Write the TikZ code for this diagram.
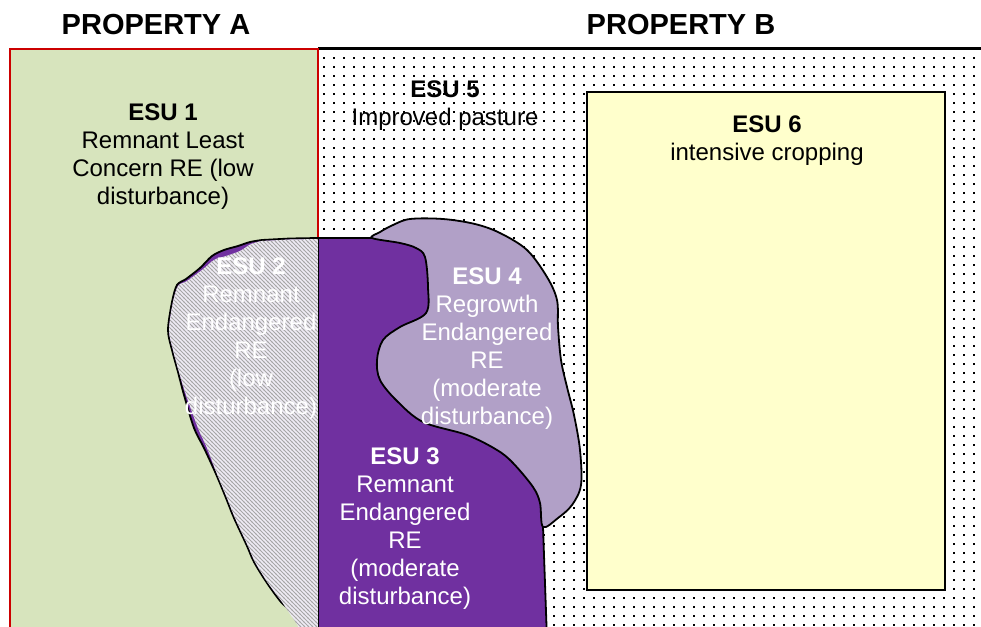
\documentclass[tikz,border=0pt]{standalone}
\usepackage{fontspec}
\setmainfont{Liberation Sans}
\usepackage{tikz}
\usetikzlibrary{patterns}

\definecolor{esugreen}{HTML}{D7E4BD}
\definecolor{esured}{HTML}{CC0000}
\definecolor{esupurple}{HTML}{7030A0}
\definecolor{esulavender}{HTML}{B1A0C7}
\definecolor{esuyellow}{HTML}{FFFFCC}
\definecolor{esupale}{HTML}{EFECF5}
\definecolor{esugrey}{HTML}{A6A6A6}

% sparse dots for the pasture, diagonal stripes for ESU 2
\pgfdeclarepatternformonly{esudots}{\pgfqpoint{0pt}{0pt}}{\pgfqpoint{9.5pt}{8.5pt}}{\pgfqpoint{9.5pt}{8.5pt}}%
  {\pgfpathrectangle{\pgfqpoint{0pt}{0pt}}{\pgfqpoint{2.1pt}{2.1pt}}\pgfusepath{fill}}
\pgfdeclarepatternformonly{esuhatch}{\pgfqpoint{-1pt}{-1pt}}{\pgfqpoint{5pt}{5pt}}{\pgfqpoint{4pt}{4pt}}%
  {\pgfsetlinewidth{1pt}\pgfpathmoveto{\pgfqpoint{-0.5pt}{4.5pt}}\pgfpathlineto{\pgfqpoint{4.5pt}{-0.5pt}}\pgfusepath{stroke}}

\begin{document}
\begin{tikzpicture}[x=1pt, y=-1pt,
  esulabel/.style={align=center, inner sep=0pt, font=\fontsize{24}{28}\selectfont},
  whitelabel/.style={esulabel, text=white},
  heading/.style={inner sep=0pt, font=\fontsize{29}{34}\selectfont\bfseries},
  outline/.style={draw=black, line width=1.8pt}]
  \useasboundingbox (0,0) rectangle (981,626);
  \clip (0,0) rectangle (981,626);

  \node[heading] (propa) at (156,25) {PROPERTY A};
  \node[heading] (propb) at (681,25) {PROPERTY B};

  % property B: ESU 5 pasture
  \fill[white] (318,49) rectangle (981,640);
  \node[esulabel] (esufive) at (445,106) {\textbf{ESU 5}\\Improved pasture};
  \fill[pattern=esudots] (319,49) rectangle (981,640);
  \draw[line width=3pt] (318,49) -- (981,49);

  % property A: ESU 1
  \fill[esugreen] (10,49) rectangle (318,640);
  \draw[esured, line width=1.5pt] (10,640) -- (10,49) -- (318,49) -- (318,640);
  \node[esulabel] (esuone) at (163,157) {\textbf{ESU 1}\\Remnant Least\\Concern RE (low\\disturbance)};

  % ESU 6
  \draw[fill=esuyellow, line width=2pt] (587,92) rectangle (945,590);
  \node[esulabel] (esusix) at (767,141) {\textbf{ESU 6}\\intensive cropping};

  % ESU 3 (right part hidden under ESU 4)
  \draw[outline, fill=esupurple] (372,238) -- (318,238) -- (290,238.5)
    -- plot[smooth] coordinates {(262,240) (250,242) (238,246) (224,250) (212,256) (200,268) (186,279)
      (177,285) (172,302) (168,330) (172,350) (178,372) (184,395) (194,428) (204,448) (216,474)
      (226,498) (234,518) (247,546) (254,562) (267,583) (281,602) (291,611) (301,624) (306,640)}
    -- (547,640) -- (543,527) -- (555,500) -- (550,440) -- (520,330) -- (450,240) -- cycle;

  % ESU 2
  \path[preaction={fill=esupale}, pattern=esuhatch, pattern color=esugrey] (318,239) -- (290,239.5)
    -- plot[smooth] coordinates {(262,241) (251,244) (240,251) (226,256) (214,260) (202,270) (187,281)
      (178,286) (173,302) (169,330) (173,350) (179,372) (186,395) (198,428) (207,448) (217,474)
      (227,498) (235,518) (248,546) (255,562) (268,583) (282,602) (290,614) (298,626) (304,640)}
    -- (318,640) -- cycle;
  \draw[line width=1pt] (318,238) -- (318,640);
  \node[whitelabel] (esutwo) at (251,339) {\textbf{ESU 2}\\Remnant\\Endangered\\RE\\(low\\disturbance)};

  % ESU 4
  \draw[outline, fill=esulavender] plot[smooth cycle, tension=0.55] coordinates {
    (372,238) (380,232) (393,225) (410,219) (443,219) (475,224) (500,233) (527,250) (547,277)
    (557,300) (558,327) (561,360) (567,387) (574,415) (580,450) (581,485) (572,505) (558,518)
    (543,527) (540,503) (533,487) (513,463) (497,450) (467,435) (423,422) (397,401) (380,380)
    (377,360) (383,340) (400,327) (426,313) (428,287) (425,257) (416,248) (400,243)};
  \node[whitelabel] (esufour) at (487,349) {\textbf{ESU 4}\\Regrowth\\Endangered\\RE\\(moderate\\disturbance)};

  \node[whitelabel] (esuthree) at (405,529) {\textbf{ESU 3}\\Remnant\\Endangered\\RE\\(moderate\\disturbance)};
\end{tikzpicture}
\end{document}
